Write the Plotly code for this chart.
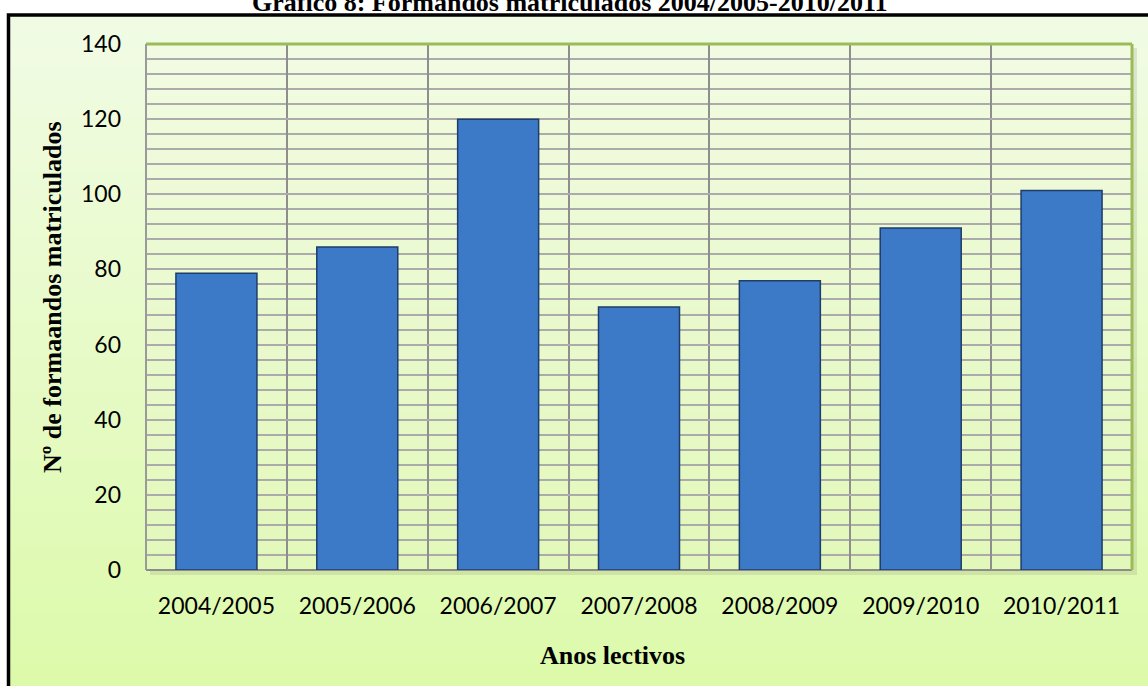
import plotly.graph_objects as go

categories = ["2004/2005", "2005/2006", "2006/2007", "2007/2008", "2008/2009", "2009/2010", "2010/2011"]
values = [79, 86, 120, 70, 77, 91, 101]
y_ticks = [0, 20, 40, 60, 80, 100, 120, 140]

W, H = 1148, 686
PL, PR, PT, PB = 146, 1132, 44, 570  # plot area in pixels


def px(x):
    return (x - PL) / (PR - PL)


def py(y):
    return (PB - y) / (PB - PT)


def mix(c1, c2, t):
    return "rgb(%d,%d,%d)" % tuple(round(a + (b - a) * t) for a, b in zip(c1, c2))


shapes = []
# outer gradient background (inside frame)
top_c, bot_c = (241, 251, 228), (220, 250, 170)
n = 40
y0, y1 = 15, 700
for i in range(n):
    ya = y0 + (y1 - y0) * i / n
    yb = y0 + (y1 - y0) * (i + 1) / n + 1
    shapes.append(dict(type="rect", xref="paper", yref="paper", layer="below",
                       x0=px(8), x1=px(1170), y0=py(ya), y1=py(yb),
                       fillcolor=mix(top_c, bot_c, i / (n - 1)), line=dict(width=0)))
# plot area shadow
shapes.append(dict(type="rect", xref="paper", yref="paper", layer="below",
                   x0=px(PL + 4), x1=px(PR + 5), y0=py(PB + 5), y1=py(PT + 4),
                   fillcolor="rgba(120,130,100,0.18)", line=dict(width=0)))
# plot area gradient
ptop, pbot = (242, 251, 226), (226, 248, 186)
m = 30
for i in range(m):
    ya = PT + (PB - PT) * i / m
    yb = PT + (PB - PT) * (i + 1) / m + 1
    shapes.append(dict(type="rect", xref="paper", yref="paper", layer="below",
                       x0=0, x1=1, y0=py(ya), y1=py(min(yb, PB)),
                       fillcolor=mix(ptop, pbot, i / (m - 1)), line=dict(width=0)))
# plot borders
shapes.append(dict(type="line", xref="paper", yref="paper", x0=0, x1=1, y0=1, y1=1,
                   line=dict(color="#9BBB59", width=3)))
shapes.append(dict(type="line", xref="paper", yref="paper", x0=1, x1=1, y0=0, y1=1,
                   line=dict(color="#9BBB59", width=3)))
shapes.append(dict(type="line", xref="paper", yref="paper", x0=0, x1=0, y0=0, y1=1,
                   line=dict(color="#9A9A9A", width=2)))
shapes.append(dict(type="line", xref="paper", yref="paper", x0=0, x1=1, y0=0, y1=0,
                   line=dict(color="#8C8C8C", width=2), layer="below"))
# outer black frame
shapes.append(dict(type="rect", xref="paper", yref="paper",
                   x0=px(8.5), x1=px(1180), y0=py(15), y1=py(720),
                   line=dict(color="black", width=3.5), fillcolor="rgba(0,0,0,0)"))

fig = go.Figure()
fig.add_trace(go.Bar(
    x=categories, y=values,
    marker=dict(color="#3C79C6", line=dict(color="#1F3C6A", width=1.5)),
    hoverinfo="x+y",
))

fig.update_layout(
    width=W, height=H,
    margin=dict(l=PL, r=W - PR, t=PT, b=H - PB, pad=0),
    paper_bgcolor="white",
    plot_bgcolor="rgba(0,0,0,0)",
    bargap=0.425,
    showlegend=False,
    shapes=shapes,
    font=dict(family="Lato, 'Open Sans', sans-serif", size=23, color="black"),
    xaxis=dict(
        type="category", tickson="boundaries",
        showgrid=True, gridcolor="#8E8E8E", gridwidth=2,
        ticks="", ticklabelstandoff=20,
        tickfont=dict(size=23),
        showline=False, zeroline=False,
    ),
    yaxis=dict(
        range=[0, 140], tickmode="array", tickvals=y_ticks,
        showgrid=True, gridcolor="#ABABAB", gridwidth=2,
        minor=dict(dtick=4, showgrid=True, gridcolor="#ABABAB", gridwidth=2),
        ticks="", ticklabelstandoff=24,
        tickfont=dict(size=23),
        showline=False, zeroline=False,
    ),
    annotations=[
        dict(text="<b>Gráfico 8: Formandos matriculados 2004/2005-2010/2011</b>",
             xref="paper", yref="paper", x=px(570), y=py(3), xanchor="center", yanchor="middle",
             showarrow=False, font=dict(family="'Liberation Serif', 'Times New Roman', serif", size=26)),
        dict(text="<b>Anos lectivos</b>",
             xref="paper", yref="paper", x=px(612), y=py(655), xanchor="center", yanchor="middle",
             showarrow=False, font=dict(family="'Liberation Serif', 'Times New Roman', serif", size=26)),
        dict(text="<b>Nº de formaandos matriculados</b>", textangle=-90,
             xref="paper", yref="paper", x=px(52), y=py(297), xanchor="center", yanchor="middle",
             showarrow=False, font=dict(family="'Liberation Serif', 'Times New Roman', serif", size=26)),
    ],
)

fig.write_html("out.html")
